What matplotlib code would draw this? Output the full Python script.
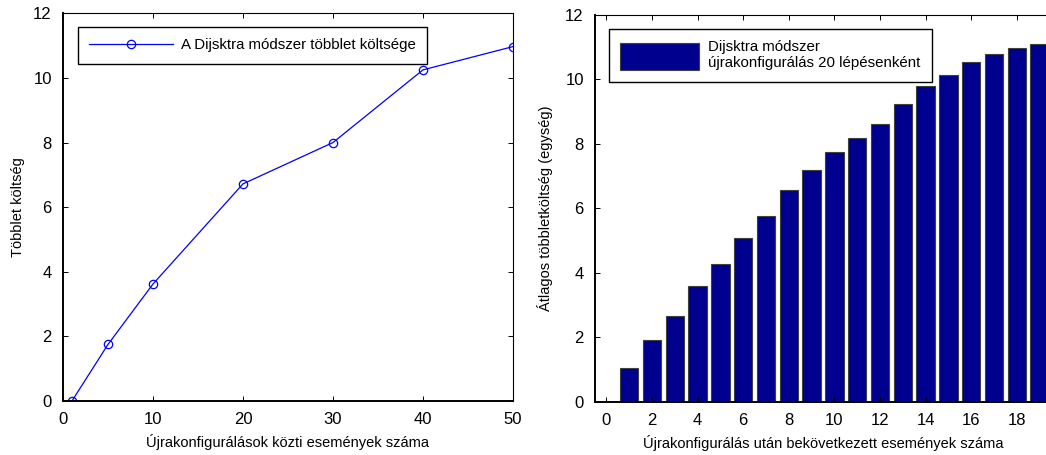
import numpy as np
import matplotlib
matplotlib.use('Agg')
import matplotlib.pyplot as plt

plt.rcParams['font.family'] = ['Liberation Sans', 'DejaVu Sans']

# left: line chart
line_x = [1, 5, 10, 20, 30, 40, 50]
line_y = [0, 1.75, 3.62, 6.72, 8.0, 10.25, 10.97]
line_label = 'A Dijsktra módszer többlet költsége'

# right: bar chart
bar_x = list(range(1, 20))
bar_y = [1.05, 1.91, 2.67, 3.60, 4.27, 5.08, 5.76, 6.57, 7.19, 7.75,
         8.18, 8.61, 9.23, 9.79, 10.15, 10.53, 10.78, 10.97, 11.09]
bar_label = 'Dijsktra módszer\nújrakonfigurálás 20 lépésenként'

fig = plt.figure(figsize=(10.46, 4.55), dpi=100)

# left axes
ax1 = fig.add_axes([0.0602, 0.1187, 0.4302, 0.852])
ax1.plot(line_x, line_y, color='blue', lw=0.9, marker='o', mfc='none',
         mec='blue', ms=6, mew=0.9, label=line_label)
ax1.set_xlim(0, 50)
ax1.set_ylim(0, 12)
ax1.set_xticks([0, 10, 20, 30, 40, 50])
ax1.set_yticks([0, 2, 4, 6, 8, 10, 12])
ax1.set_xlabel('Újrakonfigurálások közti események száma', fontsize=10.5,
               labelpad=5)
ax1.set_ylabel('Többlet költség', fontsize=10.5, labelpad=6)
leg1 = ax1.legend(loc='upper left', bbox_to_anchor=(0.0327, 0.9647),
                  borderaxespad=0, fancybox=False, framealpha=1,
                  edgecolor='black', fontsize=10.8, handlelength=5.6,
                  handletextpad=0.55, borderpad=0.75)
leg1.get_frame().set_linewidth(1.0)

# right axes (runs past the right edge of the picture)
ax2 = fig.add_axes([0.5688, 0.1172, 0.436, 0.8498])
ax2.bar(bar_x, bar_y, width=0.8, color='#00008f', edgecolor='#404040',
        linewidth=0.8, label=bar_label)
ax2.set_xlim(-0.5, 19.5)
ax2.set_ylim(0, 12)
ax2.set_xticks(range(0, 20, 2))
ax2.set_yticks([0, 2, 4, 6, 8, 10, 12])
ax2.set_xlabel('Újrakonfigurálás után bekövetkezett események száma',
               fontsize=10.5, labelpad=5)
ax2.set_ylabel('Átlagos többletköltség (egység)', fontsize=10.5, labelpad=8.5)
leg2 = ax2.legend(loc='upper left', bbox_to_anchor=(0.030, 0.9638),
                  borderaxespad=0, fancybox=False, framealpha=1,
                  edgecolor='black', fontsize=10.8, handlelength=5.3,
                  handleheight=2.4, handletextpad=0.6, borderpad=0.75)
leg2.get_frame().set_linewidth(1.0)

for ax in (ax1, ax2):
    ax.tick_params(direction='in', top=True, right=True, labelsize=12,
                   length=3.5, width=0.7, pad=8)
    ax.spines['bottom'].set_linewidth(1.4)
    ax.spines['left'].set_linewidth(1.4)
    ax.spines['top'].set_linewidth(0.8)
    ax.spines['right'].set_linewidth(0.8)

fig.savefig('out.png', dpi=100)
